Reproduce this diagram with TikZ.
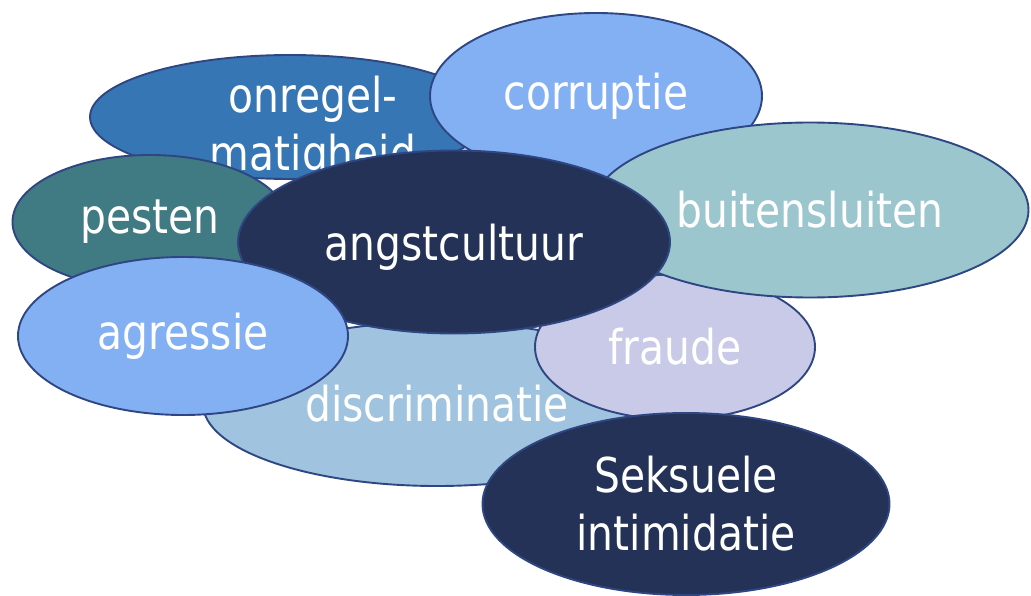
\documentclass[tikz,border=0pt]{standalone}
\usepackage{fontspec}
\newfontfamily\blobfont{DejaVu Sans}[FakeStretch=0.85]
\usetikzlibrary{shapes.geometric}

\definecolor{rim}{RGB}{46,70,130}
\definecolor{steel}{RGB}{54,118,180}
\definecolor{sky}{RGB}{131,176,242}
\definecolor{seafoam}{RGB}{155,198,206}
\definecolor{teal}{RGB}{64,122,130}
\definecolor{powder}{RGB}{160,196,224}
\definecolor{lilac}{RGB}{200,202,232}
\definecolor{navy}{RGB}{37,50,87}

\begin{document}
\begin{tikzpicture}[x=1pt, y=-1pt,
    blobtext/.style={text=white, inner sep=0pt, align=center,
      font=\blobfont\fontsize{48}{58}\selectfont},
    blob/.style={ellipse, draw=rim, line width=1.9pt, blobtext}]
  \useasboundingbox (0,0) rectangle (1031,596);

  \node[blob, fill=steel, minimum width=400pt, minimum height=124pt] (onregel) at (290,117) {};
  \node[blobtext] (onregeltxt) at ([xshift=23pt, yshift=-11pt]onregel.center) {onregel-\\matigheid};
  \node[blob, fill=sky, minimum width=332pt, minimum height=166pt] (corruptie) at (596,96) {corruptie};
  \node[blob, fill=teal, minimum width=275pt, minimum height=134pt] (pesten) at (150,222) {pesten};
  \node[blob, fill=powder, minimum width=468pt, minimum height=164pt] (discriminatie) at (437,404) {discriminatie};
  \node[blob, fill=lilac, minimum width=280pt, minimum height=145pt] (fraude) at (675,347) {fraude};
  \node[blob, fill=seafoam, minimum width=437pt, minimum height=175pt] (buitensluiten) at (810,210) {buitensluiten};
  \node[blob, fill=navy, minimum width=432pt, minimum height=183pt] (angst) at (454,242) {\raisebox{-5pt}[\height][\depth]{angstcultuur}};
  \node[blob, fill=sky, minimum width=330pt, minimum height=158pt] (agressie) at (183,336) {agressie};
  \node[blob, fill=navy, minimum width=407pt, minimum height=182pt] (seksueel) at (686,504) {Seksuele\\intimidatie};
\end{tikzpicture}
\end{document}
